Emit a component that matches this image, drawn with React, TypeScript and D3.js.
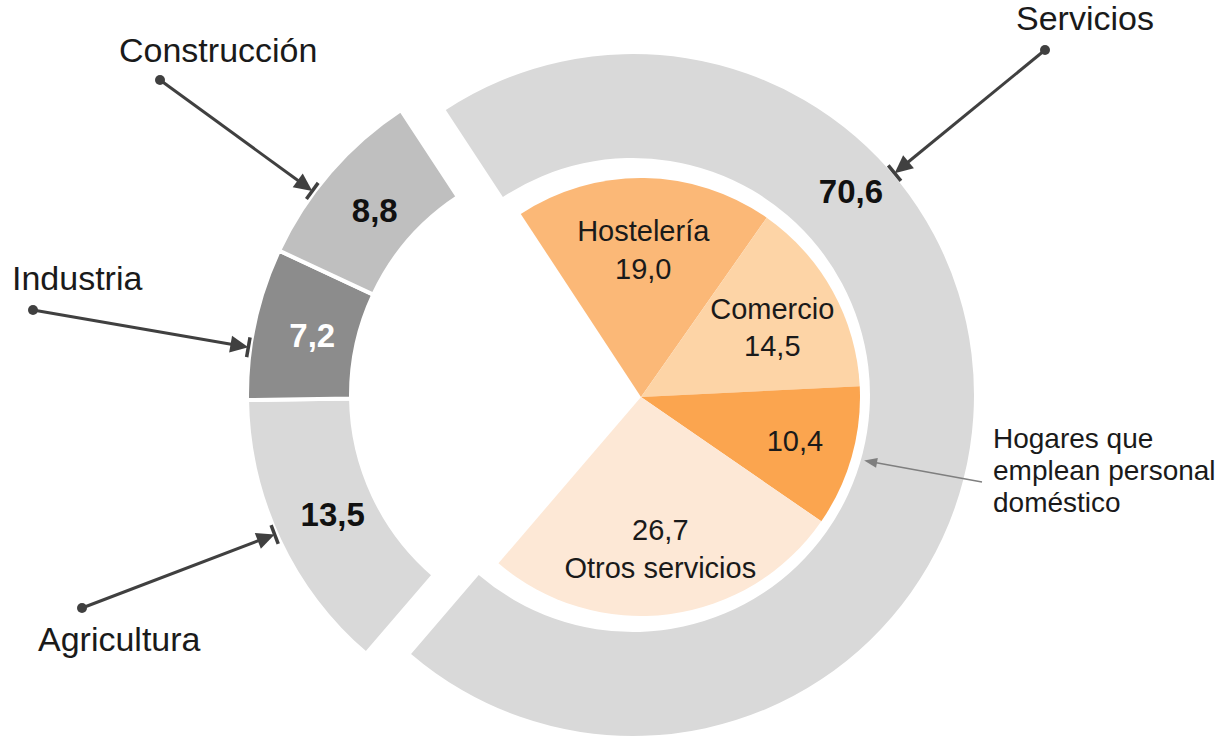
import React from "react";
import * as d3 from "d3";

// ---------- data ----------
const sectors = ["Servicios", "Agricultura", "Industria", "Construcción"];
const sectorValues = [70.6, 13.5, 7.2, 8.8];
const sectorColors = ["#d9d9d9", "#d9d9d9", "#8c8c8c", "#bfbfbf"];
const sectorValueColors = ["#111", "#111", "#fff", "#111"];

const serviceCats = ["Hostelería", "Comercio", "Hogares que emplean personal doméstico", "Otros servicios"];
const serviceValues = [19.0, 14.5, 10.4, 26.7];
const serviceColors = ["#fbb877", "#fdd4a6", "#fba54f", "#fde8d6"];

// ---------- layout ----------
const W = 1228;
const H = 740;
const FONT = "'Liberation Sans', Arial, Helvetica, sans-serif";
const deg = Math.PI / 180;
const START = -33.3 * deg;
const ringC = { x: 633, y: 395 };
const leftC = { x: 588, y: 395 };
const pieC = { x: 641, y: 397 };
const R_OUT = 341;
const R_IN = 237;
const R_PIE = 219;

const loc = d3.formatLocale({ decimal: ",", thousands: ".", grouping: [3], currency: ["", "€"] });
const fmt = loc.format(".1f");

const polar = (c: { x: number; y: number }, a: number, r: number) => ({
  x: c.x + r * Math.sin(a),
  y: c.y - r * Math.cos(a),
});

function Arrow({ from, to, color, sw, headL, headW, bar }: any) {
  const dx = to.x - from.x;
  const dy = to.y - from.y;
  const len = Math.hypot(dx, dy);
  const ux = dx / len, uy = dy / len;
  const nx = -uy, ny = ux;
  const bx = to.x - ux * headL, by = to.y - uy * headL;
  const head = `M${to.x},${to.y}L${bx + (nx * headW) / 2},${by + (ny * headW) / 2}L${bx - (nx * headW) / 2},${by - (ny * headW) / 2}Z`;
  return (
    <g>
      <line x1={from.x} y1={from.y} x2={bx + ux * 2} y2={by + uy * 2} stroke={color} strokeWidth={sw} />
      <path d={head} fill={color} />
      {bar > 0 && (
        <line x1={to.x + nx * bar} y1={to.y + ny * bar} x2={to.x - nx * bar} y2={to.y - ny * bar} stroke={color} strokeWidth={3.5} />
      )}
    </g>
  );
}

export default function App() {
  const pie = d3.pie<number>().sort(null).value((d) => d).startAngle(START).endAngle(START + 2 * Math.PI);
  const sectorArcs = pie(sectorValues);
  const serv = sectorArcs[0];
  const subPie = d3.pie<number>().sort(null).value((d) => d).startAngle(serv.startAngle).endAngle(serv.endAngle);
  const serviceArcs = subPie(serviceValues);

  const ringArc = d3.arc<any>().innerRadius(R_IN).outerRadius(R_OUT);
  const pieArc = d3.arc<any>().innerRadius(0).outerRadius(R_PIE);

  // callouts for the ring sectors: label anchor, dot, and angle at which the arrow meets the ring
  const callouts = [
    { name: "Servicios", tx: 1016, ty: 30, dot: { x: 1045, y: 50 }, c: ringC, ang: 49.7 * deg },
    { name: "Agricultura", tx: 38, ty: 651, dot: { x: 82, y: 608 }, c: leftC, ang: 246 * deg },
    { name: "Industria", tx: 12, ty: 290, dot: { x: 33, y: 310 }, c: leftC, ang: 278 * deg },
    { name: "Construcción", tx: 119, ty: 62, dot: { x: 160, y: 80 }, c: leftC, ang: 306.5 * deg },
  ];

  const servLabelPos = polar(ringC, 47 * deg, 298);
  const hogaresTip = polar(pieC, (serviceArcs[2].startAngle + serviceArcs[2].endAngle) / 2, 232);
  const hogaresLines = ["Hogares que", "emplean personal", "doméstico"];

  return (
    <svg width={W} height={H} style={{ position: "absolute", left: 0, top: 0, background: "#fff" }} fontFamily={FONT}>
      <rect width={W} height={H} fill="#fff" />
      {/* outer ring */}
      {sectorArcs.map((a, i) => {
        const c = i === 0 ? ringC : leftC;
        return (
          <path
            key={sectors[i]}
            d={ringArc(a) as string}
            transform={`translate(${c.x},${c.y})`}
            fill={sectorColors[i]}
            stroke={i === 0 ? "none" : "#fff"}
            strokeWidth={4}
          />
        );
      })}
      {/* inner pie for services */}
      {serviceArcs.map((a, i) => (
        <path key={serviceCats[i]} d={pieArc(a) as string} transform={`translate(${pieC.x},${pieC.y})`} fill={serviceColors[i]} />
      ))}

      {/* left sector values */}
      {sectorArcs.slice(1).map((a, k) => {
        const i = k + 1;
        const p = polar(leftC, (a.startAngle + a.endAngle) / 2, 282);
        return (
          <text key={"v" + i} x={p.x} y={p.y} dy="0.35em" textAnchor="middle" fontSize={33} fontWeight="bold" fill={sectorValueColors[i]}>
            {fmt(sectorValues[i])}
          </text>
        );
      })}
      <text x={servLabelPos.x} y={servLabelPos.y} dy="0.35em" textAnchor="middle" fontSize={33} fontWeight="bold" fill="#111">
        {fmt(sectorValues[0])}
      </text>

      {/* service labels */}
      {serviceArcs.map((a, i) => {
        const mid = (a.startAngle + a.endAngle) / 2;
        const p = polar(pieC, mid, i === 2 ? 160 : 150);
        const val = fmt(serviceValues[i]);
        if (i === 2) {
          return (
            <text key={"s" + i} x={p.x} y={p.y} dy="0.35em" textAnchor="middle" fontSize={29} fill="#1a1a1a">
              {val}
            </text>
          );
        }
        const lines = i === 3 ? [val, serviceCats[i]] : [serviceCats[i], val];
        return (
          <text key={"s" + i} x={p.x} y={p.y} textAnchor="middle" fontSize={29} fill="#1a1a1a">
            <tspan x={p.x} dy="-0.2em">{lines[0]}</tspan>
            <tspan x={p.x} dy="1.3em">{lines[1]}</tspan>
          </text>
        );
      })}

      {/* callouts */}
      {callouts.map((co) => {
        const tip = polar(co.c, co.ang, R_OUT + 2);
        return (
          <g key={co.name}>
            <text x={co.tx} y={co.ty} fontSize={34} fill="#1a1a1a">{co.name}</text>
            <circle cx={co.dot.x} cy={co.dot.y} r={5} fill="#404040" />
            <Arrow from={co.dot} to={tip} color="#404040" sw={3} headL={18} headW={17} bar={10} />
          </g>
        );
      })}

      {/* Hogares pointer */}
      <Arrow from={{ x: 982, y: 482 }} to={hogaresTip} color="#7f7f7f" sw={1.5} headL={13} headW={10} bar={0} />
      <text fontSize={28} fill="#1a1a1a">
        {hogaresLines.map((l, i) => (
          <tspan key={l} x={993} y={448 + i * 32}>{l}</tspan>
        ))}
      </text>
    </svg>
  );
}
